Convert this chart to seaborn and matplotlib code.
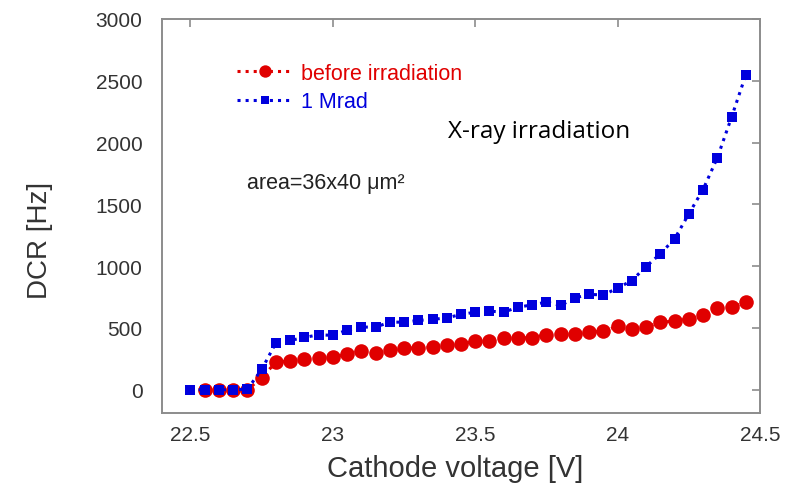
import numpy as np
import pandas as pd
import matplotlib
matplotlib.use("Agg")
import matplotlib.pyplot as plt
import seaborn as sns

# Data
x_blue = [22.5, 22.55, 22.6, 22.65, 22.7, 22.75, 22.8, 22.85, 22.9, 22.95,
          23.0, 23.05, 23.1, 23.15, 23.2, 23.25, 23.3, 23.35, 23.4, 23.45,
          23.5, 23.55, 23.6, 23.65, 23.7, 23.75, 23.8, 23.85, 23.9, 23.95,
          24.0, 24.05, 24.1, 24.15, 24.2, 24.25, 24.3, 24.35, 24.4, 24.45]
dcr_1mrad = [0, 0, 0, 0, 5, 164, 380, 399, 423, 445,
             440, 483, 507, 507, 547, 547, 561, 569, 582, 609,
             628, 636, 628, 668, 687, 709, 682, 744, 771, 768,
             822, 884, 997, 1100, 1221, 1423, 1620, 1876, 2205, 2547]
x_red = x_blue[1:]
dcr_before = [0, 0, 0, 0, 97, 224, 232, 245, 259,
              264, 286, 313, 297, 318, 337, 337, 345, 359, 367,
              394, 394, 420, 420, 420, 447, 453, 453, 466, 474,
              515, 493, 507, 547, 555, 574, 601, 660, 668, 709]

x_ticks = [22.5, 23, 23.5, 24, 24.5]
x_tick_labels = ["22.5", "23", "23.5", "24", "24.5"]
y_ticks = [0, 500, 1000, 1500, 2000, 2500, 3000]

sns.set_style("white")
plt.rcParams['font.family'] = ['Liberation Sans', 'DejaVu Sans']

fig = plt.figure(figsize=(8.08, 4.85), dpi=100)
ax = fig.add_axes([0.2005, 0.1464, 0.7401, 0.8124])

RED = "#e00000"
BLUE = "#0000dd"

sns.lineplot(x=x_red, y=dcr_before, ax=ax, color=RED, linestyle=":", linewidth=2.2,
             marker="o", markersize=10.5, markeredgewidth=0, label="before irradiation")
sns.lineplot(x=x_blue, y=dcr_1mrad, ax=ax, color=BLUE, linestyle=":", linewidth=2.2,
             marker="s", markersize=7.5, markeredgewidth=0, label="1 Mrad")

ax.set_xlim(22.4, 24.5)
ax.set_ylim(-188, 3000)
ax.set_xticks(x_ticks)
ax.set_xticklabels(x_tick_labels)
ax.set_yticks(y_ticks)

for s in ax.spines.values():
    s.set_color("#8c8c8c")
    s.set_linewidth(1.4)

ax.tick_params(direction="in", length=6, width=1.2, color="#8c8c8c",
               top=True, right=True, labelsize=15, labelcolor="#333333")
ax.tick_params(axis="y", pad=14)
ax.tick_params(axis="x", pad=9)

ax.set_xlabel("Cathode voltage [V]", fontsize=21, color="#333333")
ax.xaxis.set_label_coords(0.49, -0.103)
ax.set_ylabel("DCR [Hz]", fontsize=20, color="#333333")
ax.yaxis.set_label_coords(-0.182, 0.44)

leg = ax.legend(loc="upper left", bbox_to_anchor=(0.093, 0.938), frameon=False,
                fontsize=15.5, handlelength=2.6, handletextpad=0.35,
                labelspacing=0.35, numpoints=1, markerscale=0.85)
for txt, c in zip(leg.get_texts(), [RED, BLUE]):
    txt.set_color(c)

ax.text(0.478, 0.715, "X-ray irradiation", transform=ax.transAxes,
        fontsize=17.5, family=["Open Sans", "DejaVu Sans"], color="black",
        va="center", ha="left")
ax.text(0.142, 0.585, "area=36x40 μm²", transform=ax.transAxes,
        fontsize=15.5, color="#222222", va="center", ha="left")

fig.savefig("out.png", dpi=100)
